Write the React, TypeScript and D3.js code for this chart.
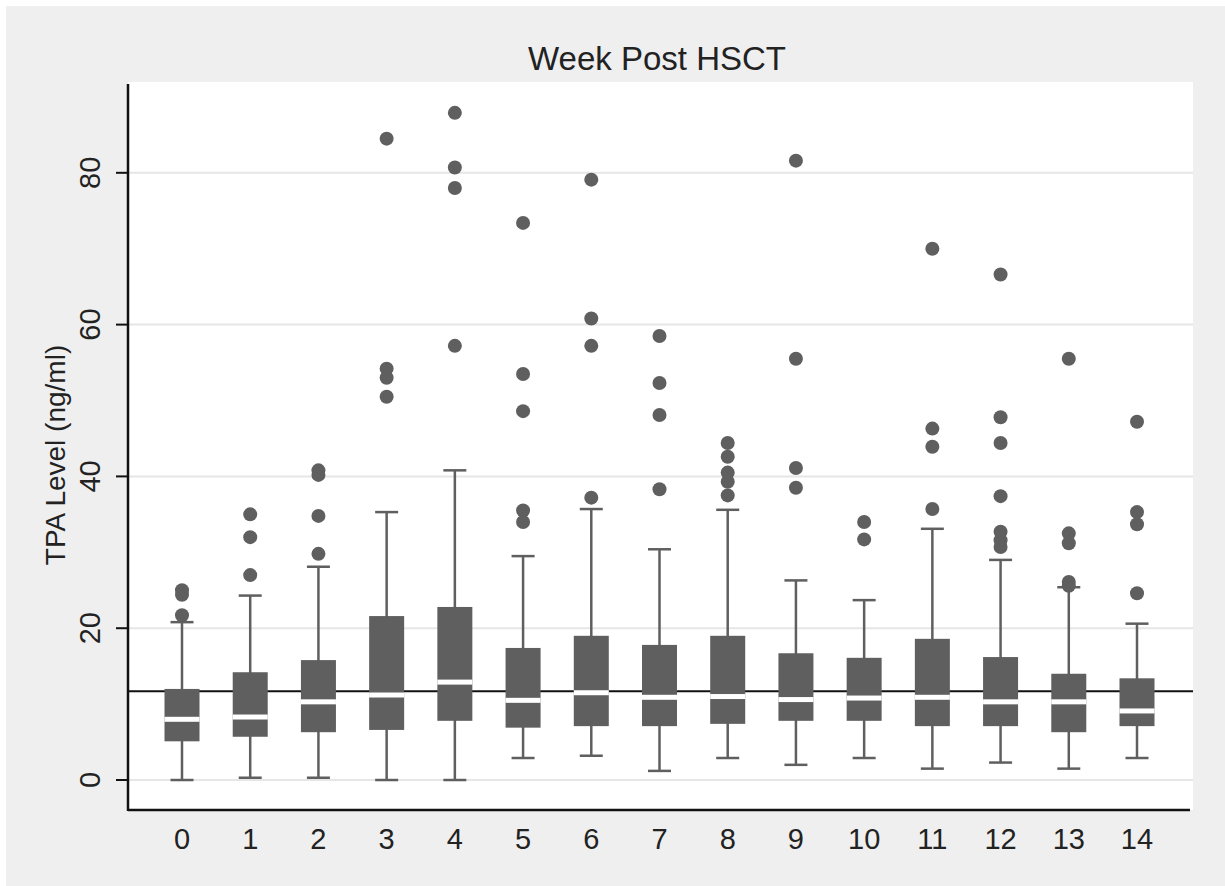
import { useRef, useEffect } from "react"
import * as d3 from "d3"

// week post HSCT, one box per week
const weeks = ["0", "1", "2", "3", "4", "5", "6", "7", "8", "9", "10", "11", "12", "13", "14"]
const q1 = [5.1, 5.7, 6.3, 6.6, 7.8, 6.9, 7.1, 7.1, 7.4, 7.8, 7.8, 7.1, 7.1, 6.3, 7.1]
const medians = [8.0, 8.3, 10.3, 11.2, 12.9, 10.5, 11.5, 10.9, 11.0, 10.6, 10.8, 10.9, 10.3, 10.3, 9.1]
const q3 = [12.0, 14.2, 15.8, 21.6, 22.8, 17.4, 19.0, 17.8, 19.0, 16.7, 16.1, 18.6, 16.2, 14.0, 13.4]
const whiskerLow = [0, 0.3, 0.3, 0, 0, 2.9, 3.2, 1.2, 2.9, 2.0, 2.9, 1.5, 2.3, 1.5, 2.9]
const whiskerHigh = [20.8, 24.3, 28.1, 35.3, 40.8, 29.5, 35.7, 30.4, 35.6, 26.3, 23.7, 33.1, 29.0, 25.4, 20.6]
const outliers = [
  [25.0, 24.4, 21.7],
  [35.0, 32.0, 27.0],
  [40.8, 40.2, 34.8, 29.8],
  [84.5, 54.2, 53.0, 50.5],
  [87.9, 80.7, 78.0, 57.2],
  [73.4, 53.5, 48.6, 35.5, 34.0],
  [79.1, 60.8, 57.2, 37.2],
  [58.5, 52.3, 48.1, 38.3],
  [44.4, 42.6, 40.5, 39.3, 37.5],
  [81.6, 55.5, 41.1, 38.5],
  [34.0, 31.7],
  [70.0, 46.3, 43.9, 35.7],
  [66.6, 47.8, 44.4, 37.4, 32.7, 31.6, 30.7],
  [55.5, 32.5, 31.2, 26.1, 25.6],
  [47.2, 35.3, 33.7, 24.6],
]
const yTicks = [0, 20, 40, 60, 80]
const refLine = 11.7

const App = () => {
  const svgRef = useRef(null)

  useEffect(() => {
    const svg = d3.select(svgRef.current)
    svg.selectAll("*").remove()

    const width = 1225
    const height = 886
    const left = 128
    const right = 1193
    const top = 84
    const bottom = 810
    const fill = "#5f5f5f"
    const font = "'Liberation Sans', Arial, sans-serif"

    svg.append("rect").attr("width", width).attr("height", height).attr("fill", "#fff")
    svg.append("rect").attr("x", 6).attr("y", 6).attr("width", width - 6).attr("height", height - 6).attr("fill", "#efefef")
    svg.append("rect").attr("x", left).attr("y", top - 2).attr("width", right - left).attr("height", bottom - top + 2).attr("fill", "#fff")

    const x = d3.scalePoint().domain(weeks).range([182, 1137])
    const y = d3.scaleLinear().domain([-3.95, 91.7]).range([bottom, top])

    // gridlines
    svg
      .append("g")
      .selectAll("line")
      .data(yTicks)
      .enter()
      .append("line")
      .attr("x1", left)
      .attr("x2", right)
      .attr("y1", (d) => y(d))
      .attr("y2", (d) => y(d))
      .attr("stroke", "#e6e6e6")
      .attr("stroke-width", 2)

    // reference line
    svg
      .append("line")
      .attr("x1", left)
      .attr("x2", right)
      .attr("y1", y(refLine))
      .attr("y2", y(refLine))
      .attr("stroke", "#111")
      .attr("stroke-width", 2)

    const boxW = 35
    const capW = 23
    const g = svg
      .append("g")
      .selectAll("g")
      .data(weeks.map((w, i) => ({ w, i })))
      .enter()
      .append("g")
      .attr("transform", (d) => `translate(${x(d.w)},0)`)

    g.append("line")
      .attr("y1", (d) => y(whiskerLow[d.i]))
      .attr("y2", (d) => y(whiskerHigh[d.i]))
      .attr("stroke", fill)
      .attr("stroke-width", 2.5)
    g.append("line")
      .attr("x1", -capW / 2)
      .attr("x2", capW / 2)
      .attr("y1", (d) => y(whiskerLow[d.i]))
      .attr("y2", (d) => y(whiskerLow[d.i]))
      .attr("stroke", fill)
      .attr("stroke-width", 2.5)
    g.append("line")
      .attr("x1", -capW / 2)
      .attr("x2", capW / 2)
      .attr("y1", (d) => y(whiskerHigh[d.i]))
      .attr("y2", (d) => y(whiskerHigh[d.i]))
      .attr("stroke", fill)
      .attr("stroke-width", 2.5)
    g.append("rect")
      .attr("x", -boxW / 2)
      .attr("width", boxW)
      .attr("y", (d) => y(q3[d.i]))
      .attr("height", (d) => y(q1[d.i]) - y(q3[d.i]))
      .attr("fill", fill)
    g.append("rect")
      .attr("x", -boxW / 2)
      .attr("width", boxW)
      .attr("y", (d) => y(medians[d.i]) - 2.5)
      .attr("height", 5)
      .attr("fill", "#fff")

    g.selectAll("circle")
      .data((d) => outliers[d.i])
      .enter()
      .append("circle")
      .attr("cy", (d) => y(d))
      .attr("r", 7)
      .attr("fill", fill)

    // axes
    svg.append("line").attr("x1", left).attr("x2", left).attr("y1", top).attr("y2", bottom + 1).attr("stroke", "#111").attr("stroke-width", 2.5)
    svg.append("line").attr("x1", left).attr("x2", right - 3).attr("y1", bottom).attr("y2", bottom).attr("stroke", "#111").attr("stroke-width", 2.5)

    const yt = svg.append("g").selectAll("g").data(yTicks).enter().append("g")
    yt.append("line")
      .attr("x1", 116)
      .attr("x2", left)
      .attr("y1", (d) => y(d))
      .attr("y2", (d) => y(d))
      .attr("stroke", "#111")
      .attr("stroke-width", 2)
    yt.append("text")
      .attr("transform", (d) => `translate(100,${y(d)}) rotate(-90)`)
      .attr("text-anchor", "middle")
      .style("font-family", font)
      .style("font-size", "29px")
      .style("fill", "#222")
      .text((d) => d)

    svg
      .append("g")
      .selectAll("text")
      .data(weeks)
      .enter()
      .append("text")
      .attr("x", (d) => x(d))
      .attr("y", 849)
      .attr("text-anchor", "middle")
      .style("font-family", font)
      .style("font-size", "29px")
      .style("fill", "#222")
      .text((d) => d)

    svg
      .append("text")
      .attr("transform", "translate(65,455) rotate(-90)")
      .attr("text-anchor", "middle")
      .style("font-family", font)
      .style("font-size", "28px")
      .style("fill", "#222")
      .text("TPA Level (ng/ml)")

    svg
      .append("text")
      .attr("x", 657)
      .attr("y", 70)
      .attr("text-anchor", "middle")
      .style("font-family", font)
      .style("font-size", "33px")
      .style("fill", "#222")
      .text("Week Post HSCT")
  }, [])

  return (
    <svg
      ref={svgRef}
      width={1225}
      height={886}
      style={{ position: "absolute", left: 0, top: 0, display: "block" }}
    ></svg>
  )
}

export default App
